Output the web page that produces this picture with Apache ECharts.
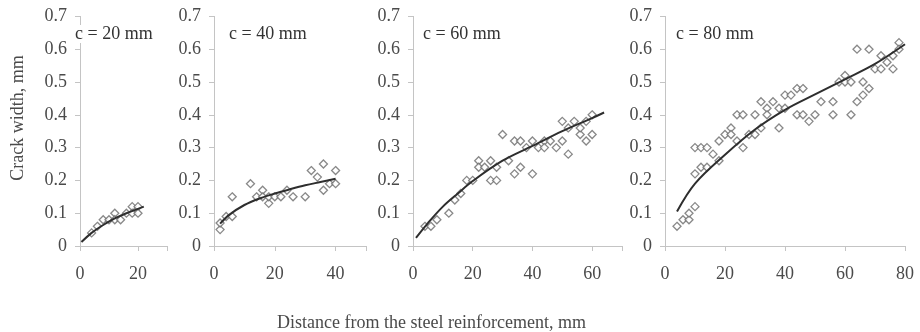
<!DOCTYPE html>
<html><head><meta charset="utf-8">
<script src="https://cdn.jsdelivr.net/npm/echarts@6/dist/echarts.min.js"></script>
<style>html,body{margin:0;padding:0;background:#fff}#c{width:920px;height:332px}</style>
</head><body><div id="c"></div>
<script>
const panelLabels = ['c = 20 mm', 'c = 40 mm', 'c = 60 mm', 'c = 80 mm'];
const xMax = [30, 50, 70, 80];
const xLabelMax = [20, 40, 60, 80];
const yTicks = [0, 0.1, 0.2, 0.3, 0.4, 0.5, 0.6, 0.7];
const yTitle = 'Crack width, mm';
const xTitle = 'Distance from the steel reinforcement, mm';

const c20Points = [[4,0.04],[6,0.06],[8,0.08],[10,0.08],[12,0.10],[12,0.08],[14,0.08],[16,0.10],[18,0.12],[18,0.10],[20,0.12],[20,0.10]];
const c20Trend = [[0.5,0.012],[4,0.04],[8,0.064],[12,0.084],[16,0.1],[20,0.113],[22,0.12]];

const c40Points = [[2,0.05],[2,0.07],[4,0.09],[6,0.09],[6,0.15],[12,0.19],[14,0.15],[16,0.17],[16,0.15],[18,0.13],[18,0.15],[20,0.15],[22,0.15],[24,0.17],[26,0.15],[30,0.15],[32,0.23],[34,0.21],[36,0.25],[36,0.17],[38,0.19],[40,0.23],[40,0.19]];
const c40Trend = [[2,0.068],[5,0.095],[10,0.125],[15,0.145],[20,0.16],[25,0.173],[30,0.185],[35,0.195],[40,0.205]];

const c60Points = [[4,0.06],[6,0.06],[8,0.08],[12,0.10],[14,0.14],[16,0.16],[18,0.20],[20,0.20],[22,0.26],[22,0.24],[24,0.24],[26,0.26],[26,0.20],[28,0.24],[28,0.20],[30,0.34],[32,0.26],[34,0.32],[34,0.22],[36,0.32],[36,0.24],[38,0.30],[40,0.32],[40,0.22],[42,0.30],[44,0.32],[44,0.30],[46,0.32],[48,0.30],[50,0.32],[50,0.38],[52,0.28],[52,0.36],[54,0.38],[56,0.34],[56,0.36],[58,0.32],[58,0.38],[60,0.40],[60,0.34]];
const c60Trend = [[1,0.025],[5,0.07],[10,0.12],[15,0.16],[20,0.198],[30,0.26],[40,0.305],[50,0.35],[60,0.39],[64,0.407]];

const c80Points = [[4,0.06],[6,0.08],[8,0.08],[8,0.10],[10,0.12],[10,0.22],[10,0.30],[12,0.30],[12,0.24],[14,0.30],[14,0.24],[16,0.28],[18,0.26],[18,0.32],[20,0.34],[22,0.36],[22,0.34],[24,0.40],[24,0.32],[26,0.40],[26,0.30],[28,0.34],[30,0.40],[30,0.34],[32,0.44],[32,0.36],[34,0.42],[34,0.40],[36,0.44],[38,0.42],[38,0.36],[40,0.46],[40,0.42],[42,0.46],[44,0.48],[44,0.40],[46,0.48],[46,0.40],[48,0.38],[50,0.40],[52,0.44],[56,0.44],[56,0.40],[58,0.50],[60,0.52],[60,0.50],[62,0.50],[62,0.40],[64,0.60],[64,0.44],[66,0.50],[66,0.46],[68,0.60],[68,0.48],[70,0.54],[72,0.58],[72,0.54],[74,0.56],[76,0.58],[76,0.54],[78,0.62],[78,0.60]];
const c80Trend = [[4,0.105],[10,0.19],[20,0.278],[30,0.355],[40,0.415],[50,0.462],[60,0.508],[70,0.555],[80,0.615]];

const allPoints = [c20Points, c40Points, c60Points, c80Points];
const allTrends = [c20Trend, c40Trend, c60Trend, c80Trend];

const TEXT = '#4a4a4a';
const FONT = 'Liberation Serif';
const AXIS = '#c4c4c4';
const grids = [
  {left: 80, width: 87},
  {left: 214, width: 152},
  {left: 413, width: 209},
  {left: 665, width: 240}
].map(g => ({left: g.left, width: g.width, top: 16.4, height: 229.6}));

const xAxes = grids.map((g, i) => ({
  type: 'value', gridIndex: i, min: 0, max: xMax[i], interval: 20,
  axisLine: {show: true, lineStyle: {color: AXIS, width: 1}},
  axisTick: {show: true, length: 5, lineStyle: {color: AXIS}},
  splitLine: {show: false},
  axisLabel: {color: TEXT, fontFamily: FONT, fontSize: 18, margin: 19,
    formatter: v => (v % 20 === 0 && v <= xLabelMax[i]) ? String(v) : ''}
}));
const yAxes = grids.map((g, i) => ({
  type: 'value', gridIndex: i, min: 0, max: yTicks[yTicks.length - 1], interval: 0.1,
  axisLine: {show: true, lineStyle: {color: AXIS, width: 1}},
  axisTick: {show: true, length: 5, lineStyle: {color: AXIS}},
  splitLine: {show: false},
  axisLabel: {color: TEXT, fontFamily: FONT, fontSize: 18, margin: 13,
    formatter: v => String(+v.toFixed(1))}
}));

const series = [];
allPoints.forEach((pts, i) => {
  series.push({type: 'scatter', xAxisIndex: i, yAxisIndex: i, data: pts,
    symbol: 'diamond', symbolSize: 8,
    itemStyle: {color: '#fff', borderColor: '#6a6a6a', borderWidth: 1.3}, z: 2});
});
allTrends.forEach((pts, i) => {
  series.push({type: 'line', xAxisIndex: i, yAxisIndex: i, data: pts, smooth: 0.35,
    showSymbol: false, symbol: 'none', lineStyle: {color: '#2e2e2e', width: 2}, z: 3});
});

const labelX = [75, 229, 423, 676];
const graphics = panelLabels.map((t, i) => ({
  type: 'text', left: labelX[i], top: 25, z: 10,
  style: {text: t, fill: '#333', font: '18px "Liberation Serif"', backgroundColor: '#fff'}
}));
graphics.push({type: 'text', left: 277, top: 314,
  style: {text: xTitle, fill: TEXT, font: '18px "Liberation Serif"'}});
graphics.push({type: 'text', x: 18, y: 118, rotation: Math.PI / 2,
  style: {text: yTitle, fill: TEXT, font: '18px "Liberation Serif"', align: 'center', verticalAlign: 'middle'}});

const chart = echarts.init(document.getElementById('c'), null, {renderer: 'canvas'});
chart.setOption({
  animation: false,
  backgroundColor: '#fff',
  grid: grids,
  xAxis: xAxes,
  yAxis: yAxes,
  series: series,
  graphic: graphics
});
</script></body></html>
